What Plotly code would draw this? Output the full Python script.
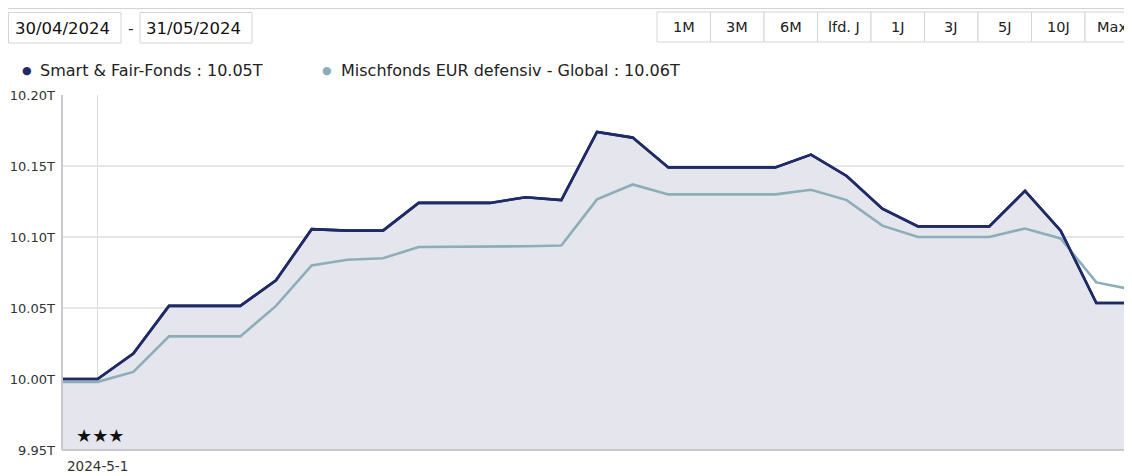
import pandas as pd
import plotly.graph_objects as go

dates = pd.date_range("2024-04-30", "2024-05-30", freq="D")

# values in thousands ("T")
smart_fair = [10.000, 10.000, 10.018, 10.0515, 10.0515, 10.0515, 10.0695, 10.1055, 10.1045, 10.1045,
              10.124, 10.124, 10.124, 10.128, 10.126, 10.174, 10.170, 10.149, 10.149, 10.149,
              10.149, 10.158, 10.143, 10.120, 10.1075, 10.1075, 10.1075, 10.1325, 10.1045, 10.0535,
              10.0535]
misch_def = [9.998, 9.998, 10.005, 10.030, 10.030, 10.030, 10.0515, 10.080, 10.084, 10.085,
             10.093, 10.093, 10.093, 10.0935, 10.094, 10.1265, 10.137, 10.130, 10.130, 10.130,
             10.130, 10.1333, 10.126, 10.108, 10.100, 10.100, 10.100, 10.106, 10.099, 10.068,
             10.063]

names = ["Smart & Fair-Fonds : 10.05T", "Mischfonds EUR defensiv - Global : 10.06T"]
y_ticks = [9.95, 10.00, 10.05, 10.10, 10.15, 10.20]
buttons = ["1M", "3M", "6M", "lfd. J", "1J", "3J", "5J", "10J", "Max"]
date_from, date_to = "30/04/2024", "31/05/2024"

DARK = "#1f2a66"
LIGHT = "#8daeb9"
FONT = "DejaVu Sans"

# the page body has an 8px margin, so the figure starts at (8, 8)
OFF = 8
W, H = 1132 - OFF, 476 - OFF
# plot box in page pixels
L, R, T, B = 62, 1132, 95, 450


def px(x):
    return (x - L) / (R - L)


def py(y):
    return (B - y) / (B - T)


fig = go.Figure()

fig.add_trace(go.Scatter(x=dates, y=smart_fair, mode="lines", name=names[0],
                         line=dict(color=DARK, width=2.6),
                         fill="tozeroy", fillcolor="#e4e5ed", showlegend=False))
fig.add_trace(go.Scatter(x=dates, y=misch_def, mode="lines", name=names[1],
                         line=dict(color=LIGHT, width=2.6), showlegend=False))
# redraw dark line on top
fig.add_trace(go.Scatter(x=dates, y=smart_fair, mode="lines",
                         line=dict(color=DARK, width=2.6), showlegend=False, hoverinfo="skip"))

shapes = []
annos = []

# top separator
shapes.append(dict(type="line", xref="paper", yref="paper", x0=px(0), x1=px(1132), y0=py(8.6), y1=py(8.6),
                   line=dict(color="#d0d0d0", width=1)))

# date inputs
for (x0, x1), txt in zip([(8.5, 121), (140, 252)], [date_from, date_to]):
    shapes.append(dict(type="rect", xref="paper", yref="paper", x0=px(x0), x1=px(x1), y0=py(12.5), y1=py(43),
                       line=dict(color="#d4d4d4", width=1), fillcolor="white"))
    annos.append(dict(xref="paper", yref="paper", x=px(x0 + 4), y=py(28), text=txt, showarrow=False,
                      xanchor="left", yanchor="middle", font=dict(family=FONT, size=16.5, color="#111")))
annos.append(dict(xref="paper", yref="paper", x=px(131), y=py(28), text="-", showarrow=False,
                  xanchor="center", yanchor="middle", font=dict(family=FONT, size=16, color="#333")))

# period buttons
bx0, bw = 657, 53.5
for i, b in enumerate(buttons):
    x0 = bx0 + i * bw
    shapes.append(dict(type="rect", xref="paper", yref="paper", x0=px(x0), x1=px(x0 + bw), y0=py(12), y1=py(42),
                       line=dict(color="#d4d4d4", width=1), fillcolor="white"))
    annos.append(dict(xref="paper", yref="paper", x=px(x0 + bw / 2), y=py(27), text=b, showarrow=False,
                      xanchor="center", yanchor="middle", font=dict(family=FONT, size=14.5, color="#222")))

# legend
for (dx, tx), nm, col in zip([(27, 38), (327, 339)], names, [DARK, LIGHT]):
    annos.append(dict(xref="paper", yref="paper", x=px(dx), y=py(70), text="●", showarrow=False,
                      xanchor="center", yanchor="middle", font=dict(family=FONT, size=11, color=col)))
    annos.append(dict(xref="paper", yref="paper", x=px(tx), y=py(70), text=nm, showarrow=False,
                      xanchor="left", yanchor="middle", font=dict(family=FONT, size=16, color="#222")))

# rating stars
annos.append(dict(xref="paper", yref="paper", x=px(100), y=py(435), text="★★★", showarrow=False,
                  xanchor="center", yanchor="middle", font=dict(family=FONT, size=18, color="#111")))

# plot frame (left and bottom)
shapes.append(dict(type="line", xref="paper", yref="paper", x0=0, x1=0, y0=0, y1=1,
                   line=dict(color="#c8c8ce", width=2)))
shapes.append(dict(type="line", xref="paper", yref="paper", x0=0, x1=1, y0=0, y1=0,
                   line=dict(color="#c8c8ce", width=2)))

fig.update_layout(
    width=W, height=H,
    margin=dict(l=L - OFF, r=0, t=T - OFF, b=H - (B - OFF)),
    paper_bgcolor="white", plot_bgcolor="white",
    font=dict(family=FONT, size=13, color="#333"),
    shapes=shapes, annotations=annos,
    showlegend=False,
    xaxis=dict(range=[dates[0], dates[-1]], tickvals=[pd.Timestamp("2024-05-01")], ticktext=["2024-5-1"],
               showgrid=True, gridcolor="#dcdcdc", gridwidth=1, zeroline=False, showline=False,
               ticks="", ticklabelstandoff=6, tickfont=dict(family=FONT, size=13.5, color="#333")),
    yaxis=dict(range=[9.95, 10.20], tickvals=y_ticks, ticktext=[f"{v:.2f}T" for v in y_ticks],
               showgrid=True, gridcolor="#e6e6e6", gridwidth=1.5, zeroline=False, showline=False,
               ticks="", ticklabelstandoff=6, tickfont=dict(family=FONT, size=13, color="#333")),
)

fig.write_html("out.html")
